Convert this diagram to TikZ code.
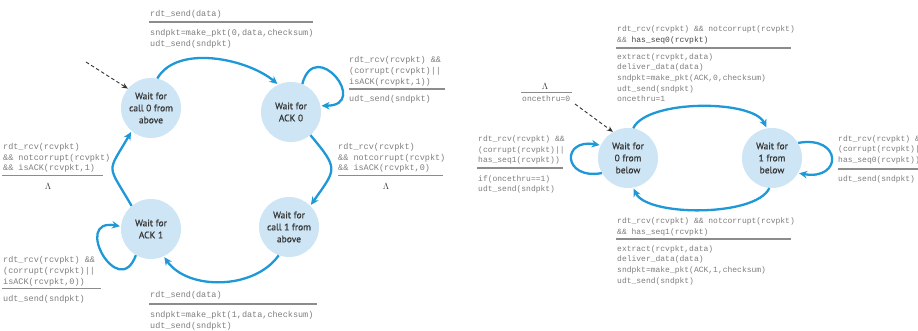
\documentclass[tikz,border=0pt]{standalone}
\usepackage{fontspec}
\usetikzlibrary{arrows.meta}
\newfontfamily\codefont{Liberation Mono}
\newfontfamily\statefont[FakeBold=0.8]{PT Sans}
\definecolor{statefill}{RGB}{205,229,244}
\definecolor{flow}{RGB}{30,152,215}
\definecolor{codegray}{RGB}{125,125,125}
\definecolor{codedark}{RGB}{70,70,70}
\definecolor{bargray}{RGB}{140,140,140}
\definecolor{statetext}{RGB}{55,55,55}
\definecolor{lamgray}{RGB}{60,60,60}
\definecolor{initgray}{RGB}{50,50,50}
\begin{document}
\begin{tikzpicture}[x=1pt,y=-1pt,
  fsmstate/.style={circle,fill=statefill,minimum size=60pt,inner sep=0pt,align=center,
    text=statetext,font=\statefont\fontsize{9.5}{12}\selectfont},
  fsmarrow/.style={draw=flow,line width=2.3pt,-{Stealth[length=8pt,width=7.5pt]},shorten >=1pt},
  initarrow/.style={draw=initgray,line width=0.9pt,dash pattern=on 3.5pt off 2.5pt,
    -{Stealth[length=6pt,width=5pt]}},
  % multi-line code blocks are placed by the baseline of their last line
  codeL/.style={anchor=base west,inner sep=0pt,align=left,text=codegray,
    font=\codefont\fontsize{8.5}{10.9}\selectfont},
  codeR/.style={anchor=base west,inner sep=0pt,align=left,text=codegray,
    font=\codefont\fontsize{8.0}{10.6}\selectfont},
  guardbar/.style={draw=bargray,line width=1.5pt},
  lambdatext/.style={inner sep=0pt,text=lamgray,font=\fontsize{9}{10}\selectfont}
]
\useasboundingbox (0,0) rectangle (918,331);
\clip (0,0) rectangle (918,331);

% ---------------- sender ----------------
\node[fsmstate] (c0) at (151,108) {Wait for\\call 0 from\\above};
\node[fsmstate] (a0) at (291,112) {Wait for\\ACK 0};
\node[fsmstate] (a1) at (151,229) {Wait for\\ACK 1};
\node[fsmstate] (c1) at (289,227) {Wait for\\call 1 from\\above};

\coordinate (s0) at (86,62);
\draw[initarrow] (s0) -- (c0.140);

\draw[fsmarrow] (c0.78) to[out=60,in=140,distance=40pt] (a0.115);
\draw[fsmarrow] (a0.68) to[out=75,in=0,distance=50pt] (a0.12);
\draw[fsmarrow] (a0.-50) to[out=-50,in=55,distance=45pt] (c1.45);
\draw[fsmarrow] (c1.-110) to[out=-125,in=-55,distance=42pt] (a1.-65);
\draw[fsmarrow] (a1.-120) to[out=-110,in=170,distance=50pt] (a1.175);
\draw[fsmarrow] (a1.130) to[out=120,in=-120,distance=50pt] (c0.-130);

% send 0
\node[codeL] (g1) at (150,16.8) {rdt\_send(data)};
\draw[guardbar] (149,22) -- (313,22);
\node[codeL] (x1) at (150,46.2) {sndpkt=make\_pkt(0,data,checksum)\\udt\_send(sndpkt)};
% resend 0
\node[codeL] (g2) at (349,84.2) {rdt\_rcv(rcvpkt) \&\&\\(corrupt(rcvpkt)||\\isACK(rcvpkt,1))};
\draw[guardbar] (349,89) -- (445,89);
\node[codeL] (x2) at (349,101.8) {udt\_send(sndpkt)};
% ACK 0 received
\node[codeL] (g3) at (338,171) {rdt\_rcv(rcvpkt)\\\&\& notcorrupt(rcvpkt)\\\&\& isACK(rcvpkt,0)};
\draw[guardbar] (338,175.5) -- (443,175.5);
\node[lambdatext] (l3) at (386,186) {$\Lambda$};
% ACK 1 received
\node[codeL] (g4) at (3,171) {rdt\_rcv(rcvpkt)\\\&\& notcorrupt(rcvpkt)\\\&\& isACK(rcvpkt,1)};
\draw[guardbar] (2,175.5) -- (103,175.5);
\node[lambdatext] (l4) at (48,186) {$\Lambda$};
% resend 1
\node[codeL] (g5) at (3,284) {rdt\_rcv(rcvpkt) \&\&\\(corrupt(rcvpkt)||\\isACK(rcvpkt,0))};
\draw[guardbar] (2,288.5) -- (101,288.5);
\node[codeL] (x5) at (3,301.5) {udt\_send(sndpkt)};
% send 1
\node[codeL] (g6) at (150,297.5) {rdt\_send(data)};
\draw[guardbar] (149,304) -- (317,304);
\node[codeL] (x6) at (150,328) {sndpkt=make\_pkt(1,data,checksum)\\udt\_send(sndpkt)};

% ---------------- receiver ----------------
\node[fsmstate] (w0) at (628,158) {Wait for\\0 from\\below};
\node[fsmstate] (w1) at (772,158) {Wait for\\1 from\\below};

\coordinate (s1) at (575,104);
\draw[initarrow] (s1) -- (w0.120);

\draw[fsmarrow] (w0.80) to[out=65,in=115,distance=32pt] (w1.100);
\draw[fsmarrow] (w1.-95) to[out=-115,in=-65,distance=32pt] (w0.-80);
\draw[fsmarrow] (w0.-150) to[out=190,in=170,distance=40pt] (w0.155);
\draw[fsmarrow] (w1.30) to[out=10,in=-10,distance=45pt] (w1.-30);

% initial action
\node[lambdatext] (l0) at (545,86) {$\Lambda$};
\draw[guardbar] (521,92.5) -- (572,92.5);
\node[codeR] (x0) at (522,101.5) {oncethru=0};
% seq 0 arrives
\node[codeR] (g7) at (617,42.5) {rdt\_rcv(rcvpkt) \&\& notcorrupt(rcvpkt)\\\&\& {\color{codedark}has\_seq0(rcvpkt)}};
\draw[guardbar] (616,48) -- (791,48);
\node[codeR] (x7) at (617,101.8) {extract(rcvpkt,data)\\deliver\_data(data)\\sndpkt=make\_pkt(ACK,0,checksum)\\udt\_send(sndpkt)\\oncethru=1};
% duplicate while waiting for 0
\node[codeR] (g8) at (478,163) {rdt\_rcv(rcvpkt) \&\&\\(corrupt(rcvpkt)||\\has\_seq1(rcvpkt))};
\draw[guardbar] (477,168) -- (563,168);
\node[codeR] (x8) at (478,191.6) {if(oncethru==1)\\udt\_send(sndpkt)};
% duplicate while waiting for 1
\node[codeR] (g9) at (838,162.5) {rdt\_rcv(rcvpkt) \&\&\\(corrupt(rcvpkt)||\\has\_seq0(rcvpkt))};
\draw[guardbar] (838,169) -- (918,169);
\node[codeR] (x9) at (838,181.5) {udt\_send(sndpkt)};
% seq 1 arrives
\node[codeR] (g10) at (617,234.3) {rdt\_rcv(rcvpkt) \&\& notcorrupt(rcvpkt)\\\&\& has\_seq1(rcvpkt)};
\draw[guardbar] (616,239) -- (791,239);
\node[codeR] (x10) at (617,283) {extract(rcvpkt,data)\\deliver\_data(data)\\sndpkt=make\_pkt(ACK,1,checksum)\\udt\_send(sndpkt)};
\end{tikzpicture}
\end{document}
